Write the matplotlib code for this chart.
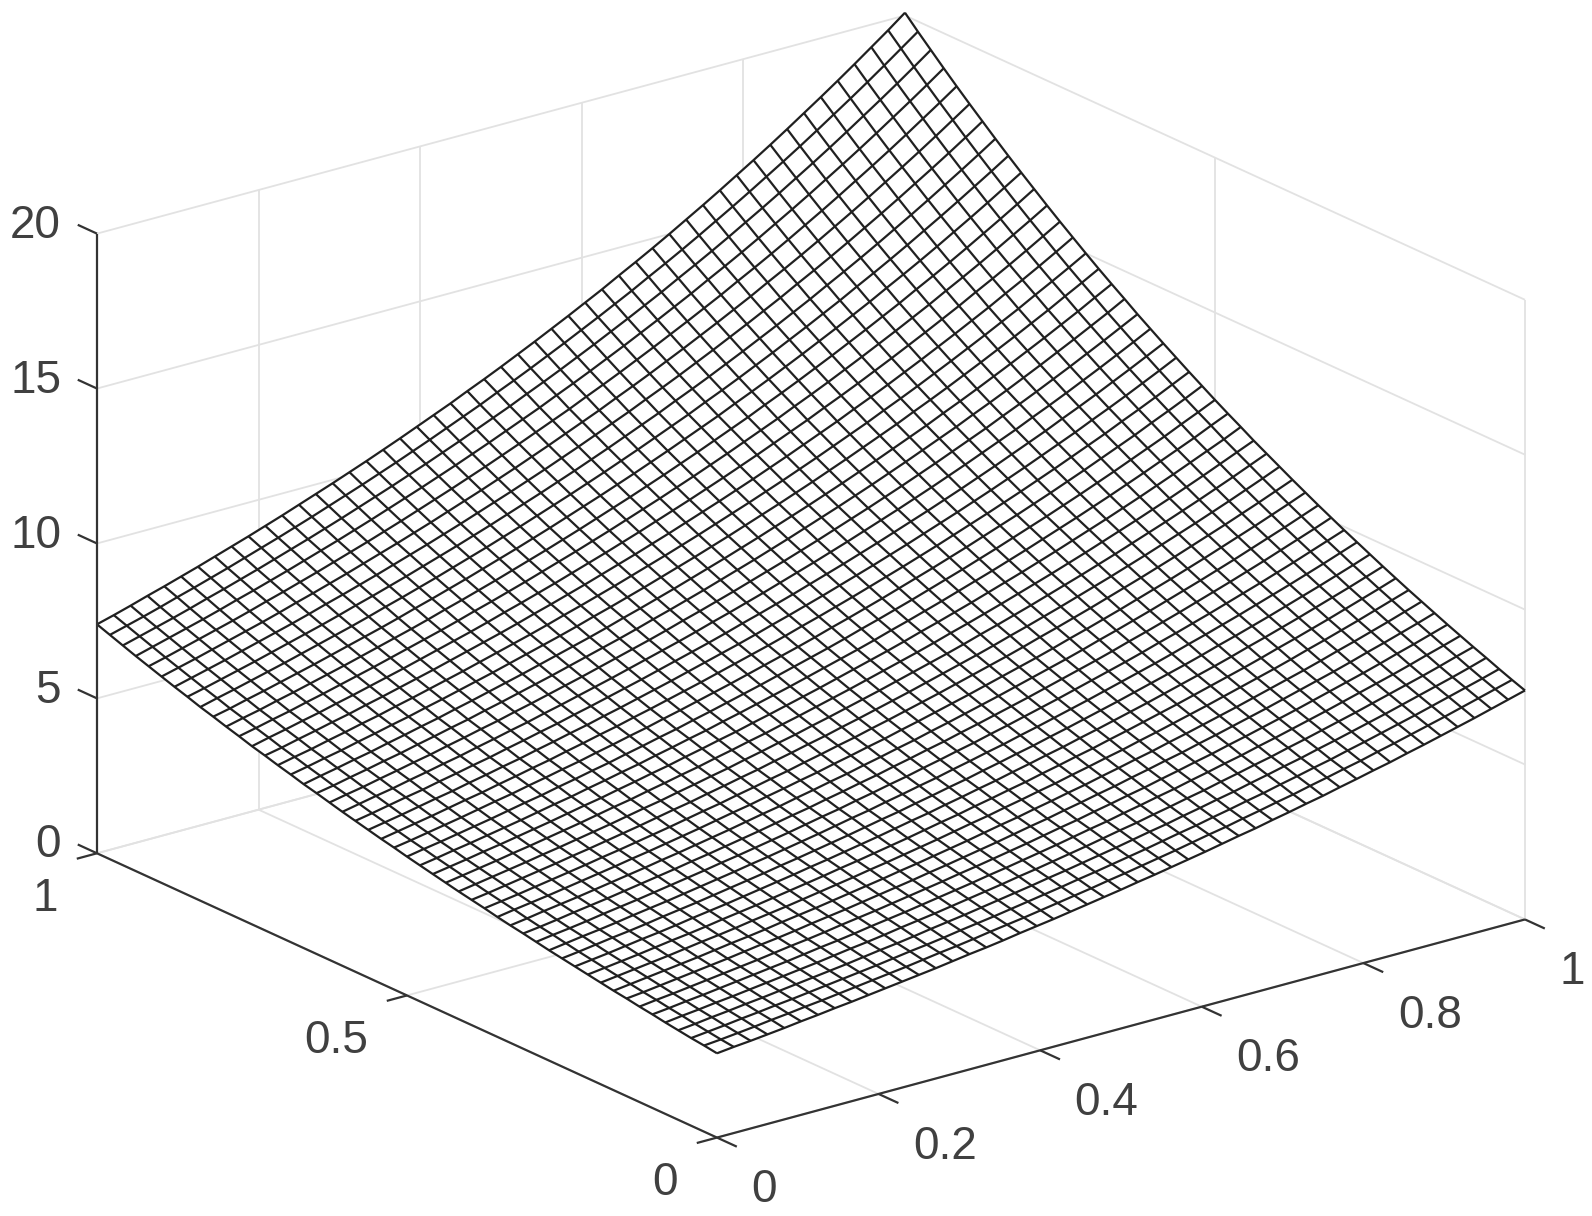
import numpy as np
import matplotlib
matplotlib.use("Agg")
import matplotlib.pyplot as plt
from mpl_toolkits.mplot3d import proj3d

x_ticks = [0, 0.2, 0.4, 0.6, 0.8, 1]
y_ticks = [0, 0.5, 1]
z_ticks = [0, 5, 10, 15, 20]
x_labels = ["0", "0.2", "0.4", "0.6", "0.8", "1"]
y_labels = ["0", "0.5", "1"]
z_labels = ["0", "5", "10", "15", "20"]

# 49 x 49 mesh, height only changes with i + j, so one value per diagonal
n_lines = 49
z_levels = [
    2.72, 2.78, 2.83, 2.89, 2.95, 3.02, 3.08, 3.15, 3.21, 3.28, 3.35, 3.42, 3.49,
    3.56, 3.64, 3.72, 3.79, 3.87, 3.96, 4.04, 4.12, 4.21, 4.30, 4.39, 4.48,
    4.58, 4.67, 4.77, 4.87, 4.97, 5.08, 5.19, 5.29, 5.41, 5.52, 5.64, 5.75,
    5.88, 6.00, 6.13, 6.25, 6.39, 6.52, 6.66, 6.80, 6.94, 7.09, 7.24, 7.39,
    7.54, 7.70, 7.87, 8.03, 8.20, 8.37, 8.55, 8.73, 8.91, 9.10, 9.29, 9.49,
    9.69, 9.89, 10.10, 10.31, 10.53, 10.75, 10.98, 11.21, 11.44, 11.69, 11.93, 12.18,
    12.44, 12.70, 12.97, 13.24, 13.52, 13.80, 14.10, 14.39, 14.69, 15.00, 15.32, 15.64,
    15.97, 16.31, 16.65, 17.00, 17.36, 17.73, 18.10, 18.48, 18.87, 19.27, 19.67, 20.09,
]

GRID = "#e2e2e2"
DARK = "#333333"
MESH = "#202020"
TEXT = "#404040"

plt.rcParams["font.family"] = ["Liberation Sans", "DejaVu Sans"]

fig = plt.figure(figsize=(15.92, 12.16), dpi=100)
# big square axes so nothing gets clipped by the axes patch
ax = fig.add_axes([-62 / 1592, -233.5 / 1216, 1700 / 1592, 1700 / 1216],
                  projection="3d", proj_type="ortho", computed_zorder=False)
ax.set_box_aspect((1, 1, 0.65), zoom=0.9052)
ax.view_init(elev=20.6, azim=-127.5)
ax.set_xlim(0, 1, view_margin=0)
ax.set_ylim(0, 1, view_margin=0)
ax.set_zlim(0, 20, view_margin=0)
ax.set_xticks([])
ax.set_yticks([])
ax.set_zticks([])
ax.set_axis_off()
ax.patch.set_alpha(0)
for t in [ax.title, ax._left_title, ax._right_title]:
    t.set_visible(False)
for axis in [ax.xaxis, ax.yaxis, ax.zaxis]:
    axis.set_visible(False)


def line3(xs, ys, zs, color, lw, zorder):
    ax.plot(xs, ys, zs, color=color, lw=lw, zorder=zorder, solid_capstyle="butt")


def label3(x, y, z, s, ha):
    # project to the 2d view, the tick labels stay flat text
    px, py, _ = proj3d.proj_transform(x, y, z, ax.get_proj())
    ax.text2D(px, py, s, transform=ax.transData, ha=ha, va="center",
              fontsize=33, color=TEXT)


# floor and the two back walls
for t in x_ticks:
    line3([t, t], [0, 1], [0, 0], GRID, 1.3, 1)
    line3([t, t], [1, 1], [0, 20], GRID, 1.3, 1)
for t in y_ticks:
    line3([0, 1], [t, t], [0, 0], GRID, 1.3, 1)
    line3([1, 1], [t, t], [0, 20], GRID, 1.3, 1)
for t in z_ticks:
    line3([0, 1], [1, 1], [t, t], GRID, 1.3, 1)
    line3([1, 1], [0, 1], [t, t], GRID, 1.3, 1)

# mesh: white faces to hide the grid, wires on top so all lines keep their width
grid_vals = np.linspace(0, 1, n_lines)
X, Y = np.meshgrid(grid_vals, grid_vals)
I, J = np.indices(X.shape)
Z = np.array(z_levels)[I + J]
ax.plot_surface(X, Y, Z, rstride=1, cstride=1, color="white", linewidth=0,
                shade=False, antialiased=False, zorder=2)
ax.plot_wireframe(X, Y, Z, rstride=1, cstride=1, color=MESH, linewidth=1.6, zorder=3)

# axis lines
line3([0, 1], [0, 0], [0, 0], DARK, 1.6, 4)
line3([0, 0], [0, 1], [0, 0], DARK, 1.6, 4)
line3([0, 0], [1, 1], [0, 20], DARK, 1.6, 4)

# ticks and labels
for t, s in zip(x_ticks, x_labels):
    line3([t, t], [0, -0.032], [0, 0], DARK, 1.6, 4)
    label3(t, -0.0555, -1.19, s, "left")
for t, s in zip(y_ticks, y_labels):
    line3([0, -0.025], [t, t], [0, 0], DARK, 1.6, 4)
    label3(-0.0483, t, -1.12, s, "right")
for t, s in zip(z_ticks, z_labels):
    line3([0, 0], [1, 1.031], [t, t], DARK, 1.6, 4)
    label3(0, 1.058, t - 0.28, s, "right")

fig.savefig("out.png", dpi=100)
